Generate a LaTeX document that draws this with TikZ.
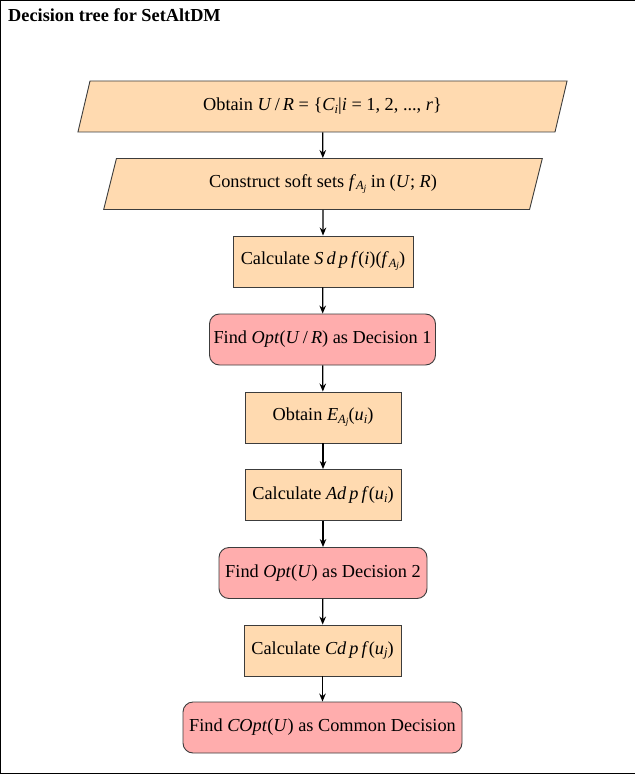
\documentclass[tikz,border=0pt]{standalone}
\usepackage{fontspec}
\setmainfont{Liberation Serif}
\usetikzlibrary{shapes.geometric,arrows.meta}
\definecolor{peach}{RGB}{255,218,176}
\definecolor{pinkd}{RGB}{255,173,173}
\definecolor{edgegray}{RGB}{60,60,60}
\newcommand\mi[1]{\textit{#1}}
\newcommand\sbs[1]{\raisebox{-0.3ex}{\fontsize{12.5}{12.5}\selectfont #1}}
\newcommand\ssbs[1]{\raisebox{-0.25ex}{\fontsize{9.5}{9.5}\selectfont #1}}
\begin{document}
\begin{tikzpicture}[x=1pt,y=-1pt,
  every node/.style={font=\fontsize{18.3}{21}\selectfont, inner sep=0pt},
  para/.style={trapezium, trapezium left angle=69.6, trapezium right angle=110.4,
    trapezium stretches=true, draw=edgegray, line width=0.9pt, fill=peach, minimum height=51pt},
  procbox/.style={rectangle, draw=edgegray, line width=0.9pt, fill=peach, minimum height=51pt},
  decbox/.style={rectangle, rounded corners=10pt, draw=edgegray, line width=0.9pt, fill=pinkd, minimum height=51pt},
  arr/.style={-{Stealth[length=8pt,width=6.5pt]}, line width=1.2pt, black}]
\useasboundingbox (0,0) rectangle (634,775);
\draw[line width=1pt] (0.5,0.5) rectangle (637,773.5);
\node[anchor=base west, font=\fontsize{18.3}{21}\selectfont\bfseries] (title) at (8,22) {Decision tree for SetAltDM};

\node[para, minimum width=491pt] (n1) at (322.5,106.5) {Obtain \mi{U}\,/\,\mi{R} = \{\mi{C}\sbs{\mi{i}}|\mi{i} = 1, 2, ..., \mi{r}\}};
\node[para, minimum width=440pt] (n2) at (323,184) {Construct soft sets \mi{f}\sbs{\mi{A}\ssbs{\mi{j}}} in (\mi{U}; \mi{R})};
\node[procbox, minimum width=180pt] (n3) at (323,261.5) {Calculate \mi{S\,d\,p\,f}(\mi{i})(\mi{f}\sbs{\mi{A}\ssbs{\mi{j}}})};
\node[decbox, minimum width=226pt] (n4) at (322.5,339.5) {Find \mi{Opt}(\mi{U}\,/\,\mi{R}) as Decision 1};
\node[procbox, minimum width=156pt] (n5) at (323,417.5) {Obtain \mi{E}\sbs{\mi{A}\ssbs{\mi{j}}}(\mi{u}\sbs{\mi{i}})};
\node[procbox, minimum width=156pt] (n6) at (323,495) {Calculate \mi{Ad\,p\,f}(\mi{u}\sbs{\mi{i}})};
\node[decbox, minimum width=208pt] (n7) at (323,573) {Find \mi{Opt}(\mi{U}) as Decision 2};
\node[procbox, minimum width=157pt] (n8) at (322.5,650.5) {Calculate \mi{Cd\,p\,f}(\mi{u}\sbs{\mi{j}})};
\node[decbox, minimum width=279pt] (n9) at (322.5,727.5) {Find \mi{COpt}(\mi{U}) as Common Decision};

\draw[arr] (n1) -- (n2);
\draw[arr] (n2) -- (n3);
\draw[arr] (n3) -- (n4);
\draw[arr] (n4) -- (n5);
\draw[arr] (n5) -- (n6);
\draw[arr] (n6) -- (n7);
\draw[arr] (n7) -- (n8);
\draw[arr] (n8) -- (n9);
\end{tikzpicture}
\end{document}
